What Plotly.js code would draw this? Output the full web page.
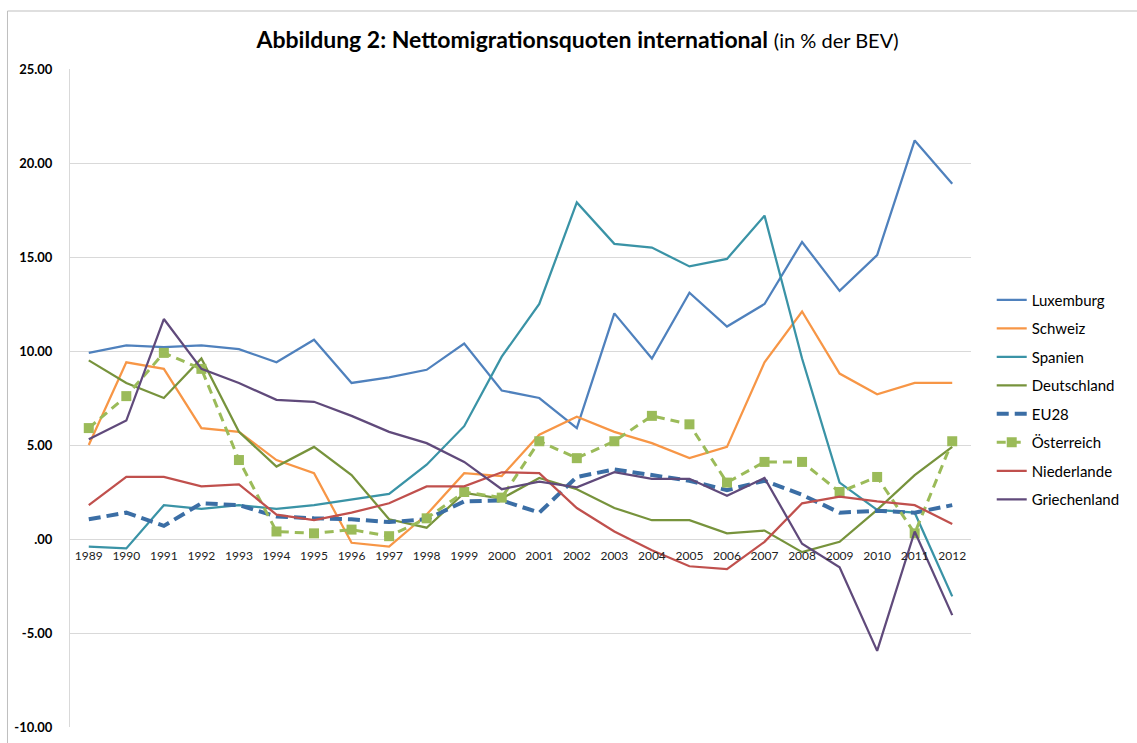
<!DOCTYPE html>
<html>
<head>
<meta charset="utf-8">
<script src="https://cdn.plot.ly/plotly-3.0.1.min.js"></script>
<style>html,body{margin:0;padding:0;background:#fff;}#chart{width:1137px;height:743px;}</style>
</head>
<body>
<div id="chart"></div>
<script>
const years = ['1989','1990','1991','1992','1993','1994','1995','1996','1997','1998','1999','2000','2001','2002','2003','2004','2005','2006','2007','2008','2009','2010','2011','2012'];

const luxemburg    = [9.9, 10.3, 10.2, 10.3, 10.1, 9.4, 10.6, 8.3, 8.6, 9.0, 10.4, 7.9, 7.5, 5.9, 12.0, 9.6, 13.1, 11.3, 12.5, 15.8, 13.2, 15.1, 21.2, 18.9];
const schweiz      = [5.0, 9.4, 9.05, 5.9, 5.7, 4.2, 3.5, -0.2, -0.4, 1.3, 3.5, 3.35, 5.55, 6.5, 5.7, 5.1, 4.3, 4.9, 9.4, 12.1, 8.8, 7.7, 8.3, 8.3];
const spanien      = [-0.4, -0.5, 1.8, 1.6, 1.8, 1.6, 1.8, 2.1, 2.4, 3.95, 6.0, 9.7, 12.5, 17.9, 15.7, 15.5, 14.5, 14.9, 17.2, 9.6, 3.0, 1.55, 1.4, -3.05];
const deutschland  = [9.5, 8.3, 7.5, 9.6, 5.7, 3.85, 4.9, 3.4, 1.05, 0.6, 2.45, 2.15, 3.25, 2.65, 1.65, 1.0, 1.0, 0.3, 0.45, -0.7, -0.15, 1.55, 3.4, 4.9];
const eu28         = [1.05, 1.4, 0.7, 1.9, 1.8, 1.2, 1.1, 1.05, 0.9, 1.05, 2.0, 2.05, 1.4, 3.3, 3.7, 3.4, 3.1, 2.6, 3.1, 2.35, 1.4, 1.5, 1.4, 1.8];
const oesterreich  = [5.9, 7.6, 9.9, 9.05, 4.2, 0.4, 0.3, 0.5, 0.15, 1.1, 2.5, 2.2, 5.2, 4.3, 5.2, 6.55, 6.1, 3.0, 4.1, 4.1, 2.5, 3.3, 0.3, 5.2];
const niederlande  = [1.8, 3.3, 3.3, 2.8, 2.9, 1.3, 1.0, 1.4, 1.9, 2.8, 2.8, 3.55, 3.5, 1.65, 0.4, -0.6, -1.45, -1.6, -0.15, 1.9, 2.25, 2.0, 1.8, 0.8];
const griechenland = [5.3, 6.3, 11.7, 9.05, 8.3, 7.4, 7.3, 6.55, 5.7, 5.1, 4.1, 2.65, 3.05, 2.75, 3.55, 3.2, 3.2, 2.3, 3.25, -0.25, -1.5, -5.95, 0.4, -4.05];

const yTickVals = [-10, -5, 0, 5, 10, 15, 20, 25];
const yTickText = ['-10.00', '-5.00', '.00', '5.00', '10.00', '15.00', '20.00', '25.00'];

const FONT = 'Lato, Carlito, "Open Sans", sans-serif';

function line(name, y, color, extra) {
  const t = {
    type: 'scatter', mode: 'lines', name: name, x: years, y: y,
    line: {color: color, width: 2.25},
    legendgroup: name, hoverinfo: 'skip'
  };
  return Object.assign(t, extra || {});
}

const traces = [
  line('Luxemburg', luxemburg, '#4F81BD'),
  line('Schweiz', schweiz, '#F79646'),
  line('Spanien', spanien, '#3A93A6'),
  line('Deutschland', deutschland, '#77933C'),
  line('EU28', eu28, '#3B6EA5', {line: {color: '#3B6EA5', width: 4, dash: '12px,6px'}}),
  line('Österreich', oesterreich, '#9BBB59', {mode: 'lines+markers', line: {color: '#9BBB59', width: 3, dash: '9px,6px'}, marker: {symbol: 'square', size: 10, color: '#9BBB59'}}),
  line('Niederlande', niederlande, '#C0504D'),
  line('Griechenland', griechenland, '#604A7B')
];

const layout = {
  width: 1137, height: 743,
  margin: {l: 70, r: 159, t: 69, b: 16},
  paper_bgcolor: '#ffffff', plot_bgcolor: '#ffffff',
  font: {family: FONT, color: '#000000', size: 12},
  title: {
    text: '<b>Abbildung 2: Nettomigrationsquoten international</b> <span style="font-size:20px">(in % der BEV)</span>',
    font: {family: FONT, size: 23, color: '#000000'},
    xref: 'container', x: 0.508, xanchor: 'center',
    yref: 'container', y: 1 - 40/743, yanchor: 'middle'
  },
  xaxis: {
    type: 'category',
    range: [-0.5, 23.5], autorange: false,
    anchor: 'free', position: 10/35,
    showgrid: false, showline: false, zeroline: false,
    ticks: 'outside', ticklen: 6, tickcolor: 'rgba(0,0,0,0)',
    tickfont: {family: FONT, size: 12, color: '#222222'},
    fixedrange: true
  },
  yaxis: {
    range: [-10, 25], autorange: false,
    tickvals: yTickVals, ticktext: yTickText,
    showgrid: true, gridcolor: '#D9D9D9', gridwidth: 1,
    zeroline: false,
    showline: true, linecolor: '#D9D9D9', linewidth: 1,
    ticks: 'outside', ticklen: 14, tickcolor: 'rgba(0,0,0,0)',
    tickfont: {family: FONT, size: 13, color: '#000000', weight: 'bold'},
    fixedrange: true
  },
  legend: {
    x: 1.023, xanchor: 'left', y: 0.674, yanchor: 'top',
    font: {family: FONT, size: 15, color: '#000000'},
    traceorder: 'grouped', tracegroupgap: 6,
    bgcolor: 'rgba(0,0,0,0)', borderwidth: 0
  },
  shapes: [{
    type: 'rect', xref: 'paper', yref: 'paper',
    x0: (7 - 70) / 908, x1: 1.3, y0: -0.2, y1: (727 - 11) / 658,
    line: {color: '#BFBFBF', width: 1}, fillcolor: 'rgba(0,0,0,0)', layer: 'below'
  }],
  showlegend: true
};

Plotly.newPlot('chart', traces, layout, {displayModeBar: false, staticPlot: true});
</script>
</body>
</html>
